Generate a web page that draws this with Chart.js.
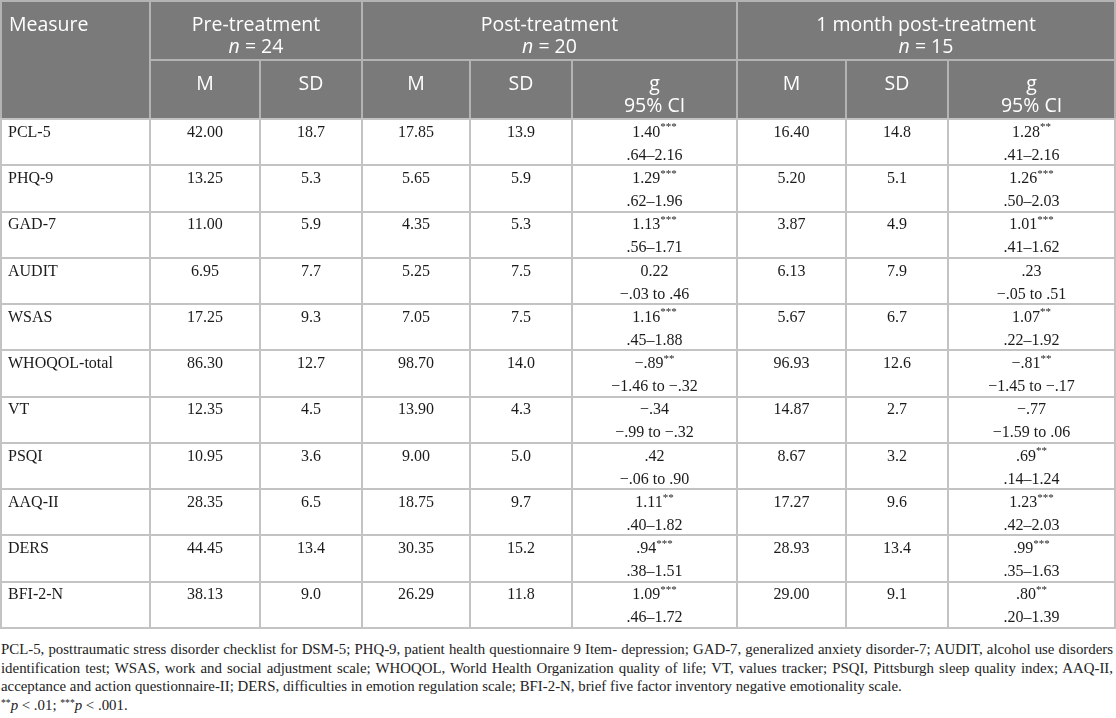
<!DOCTYPE html>
<html>
<head>
<meta charset="utf-8">
<script src="https://cdn.jsdelivr.net/npm/chart.js@4.4.0/dist/chart.umd.min.js"></script>
<style>
html,body{margin:0;padding:0;background:#fff;}
#wrap{position:absolute;left:0;top:0;width:1116px;height:632px;}
#foot{position:absolute;left:1px;top:640px;width:1112px;font-family:"Liberation Serif",serif;font-size:16px;line-height:18.5px;color:#222;}
#foot .j{text-align:justify;text-align-last:justify;white-space:nowrap;}
#foot .j{white-space:normal;}
#foot sup{font-size:0.65em;vertical-align:0.45em;line-height:0;}
</style>
</head>
<body>
<div id="wrap"><canvas id="c"></canvas></div>
<div id="foot"></div>
<script>
// ---------- DATA ----------
const measures = ['PCL-5','PHQ-9','GAD-7','AUDIT','WSAS','WHOQOL-total','VT','PSQI','AAQ-II','DERS','BFI-2-N'];
const groupLabels = ['Pre-treatment','Post-treatment','1 month post-treatment'];
const groupN = ['24','20','15'];
const subHeaders = ['M','SD','M','SD','g|95% CI','M','SD','g|95% CI'];

const preM  = [42.00,13.25,11.00,6.95,17.25,86.30,12.35,10.95,28.35,44.45,38.13];
const preSD = [18.7,5.3,5.9,7.7,9.3,12.7,4.5,3.6,6.5,13.4,9.0];

const postM  = [17.85,5.65,4.35,5.25,7.05,98.70,13.90,9.00,18.75,30.35,26.29];
const postSD = [13.9,5.9,5.3,7.5,7.5,14.0,4.3,5.0,9.7,15.2,11.8];
const postG  = ['1.40','1.29','1.13','0.22','1.16','\u2212.89','\u2212.34','.42','1.11','.94','1.09'];
const postSig= ['***','***','***','','***','**','','','**','***','***'];
const postCI = ['.64\u20132.16','.62\u20131.96','.56\u20131.71','\u2212.03 to .46','.45\u20131.88','\u22121.46 to \u2212.32','\u2212.99 to \u2212.32','\u2212.06 to .90','.40\u20131.82','.38\u20131.51','.46\u20131.72'];

const fuM  = [16.40,5.20,3.87,6.13,5.67,96.93,14.87,8.67,17.27,28.93,29.00];
const fuSD = [14.8,5.1,4.9,7.9,6.7,12.6,2.7,3.2,9.6,13.4,9.1];
const fuG  = ['1.28','1.26','1.01','.23','1.07','\u2212.81','\u2212.77','.69','1.23','.99','.80'];
const fuSig= ['**','***','***','','**','**','','**','***','***','**'];
const fuCI = ['.41\u20132.16','.50\u20132.03','.41\u20131.62','\u2212.05 to .51','.22\u20131.92','\u22121.45 to \u2212.17','\u22121.59 to .06','.14\u20131.24','.42\u20132.03','.35\u20131.63','.20\u20131.39'];

const footLines = [
  'PCL-5, posttraumatic stress disorder checklist for DSM-5; PHQ-9, patient health questionnaire 9 Item- depression; GAD-7, generalized anxiety disorder-7; AUDIT, alcohol use disorders',
  'identification test; WSAS, work and social adjustment scale; WHOQOL, World Health Organization quality of life; VT, values tracker; PSQI, Pittsburgh sleep quality index; AAQ-II,',
  'acceptance and action questionnaire-II; DERS, difficulties in emotion regulation scale; BFI-2-N, brief five factor inventory negative emotionality scale.'
];
const sigNote = '<sup>**</sup><i>p</i> &lt; .01; <sup>***</sup><i>p</i> &lt; .001.';

// ---------- LAYOUT / STYLE ----------
const TABLE_W = 1116;
const colEdges = [1,150,260,362,470,572,737,846,948,1115];
const groupSpans = [[1,3],[3,6],[6,9]];
const HEAD_ROW1 = 60, HEAD_H = 119;
const HEAD_BG = '#7a7a7a', HEAD_LINE = '#b3b3b3', GRID = '#c3c3c3';
const SANS = '"Open Sans", "Noto Sans", sans-serif';
const SERIF = '"Liberation Serif", "DejaVu Serif", serif';
const bodyFont = '16px ' + SERIF;
const supFont = '11px ' + SERIF;
const TEXT = '#1b1b1b';

// footnote (HTML text, sized so the first justified line fits)
(function(){
  const foot = document.getElementById('foot');
  const m = document.createElement('canvas').getContext('2d');
  let fs = 16;
  m.font = fs + 'px "Liberation Serif"';
  const w = m.measureText(footLines[0]).width;
  if (w > 1104) fs = fs * 1104 / w;
  foot.style.fontSize = fs.toFixed(2) + 'px';
  foot.innerHTML = footLines.map((t,i)=>'<div class="'+(i<2?'j':'')+'">'+t+'</div>').join('') + '<div>'+sigNote+'</div>';
})();

function plain(t){ return [{t:t, font:bodyFont}]; }
function starred(t,s){ return [{t:t, font:bodyFont},{t:s, font:supFont, dy:-5}]; }

const bodyCols = [
  {align:'left', cell:i=>[plain(measures[i])]},
  {cell:i=>[plain(preM[i].toFixed(2))]},
  {cell:i=>[plain(preSD[i].toFixed(1))]},
  {cell:i=>[plain(postM[i].toFixed(2))]},
  {cell:i=>[plain(postSD[i].toFixed(1))]},
  {cell:i=>[starred(postG[i],postSig[i]), plain(postCI[i])]},
  {cell:i=>[plain(fuM[i].toFixed(2))]},
  {cell:i=>[plain(fuSD[i].toFixed(1))]},
  {cell:i=>[starred(fuG[i],fuSig[i]), plain(fuCI[i])]}
];

const datasets = bodyCols.map((col,c)=>({
  label:'col'+c,
  data: measures.map(m=>({x:(colEdges[c]+colEdges[c+1])/2, y:m})),
  cells: measures.map((m,i)=>col.cell(i)),
  align: col.align||'center',
  colIndex: c,
  pointRadius:0, showLine:false
}));

function drawRich(ctx, parts, x, y, align){
  let w=0;
  parts.forEach(p=>{ctx.font=p.font; p.w=ctx.measureText(p.t).width; w+=p.w;});
  let sx = align==='left' ? x : x - w/2;
  ctx.textAlign='left';
  parts.forEach(p=>{ctx.font=p.font; ctx.fillText(p.t, sx, y+(p.dy||0)); sx+=p.w;});
}

const cellPlugin = {
  id:'cells',
  afterDatasetsDraw(chart){
    const ctx = chart.ctx, xs = chart.scales.x, ys = chart.scales.y;
    const rowH = ys.getPixelForValue(1) - ys.getPixelForValue(0);
    ctx.save();
    ctx.fillStyle = TEXT;
    ctx.textBaseline = 'middle';
    chart.data.datasets.forEach((ds,d)=>{
      const meta = chart.getDatasetMeta(d);
      meta.data.forEach((el,i)=>{
        const p = el.getProps(['x','y'], true);
        const top = p.y - rowH/2;
        const x = ds.align==='left' ? xs.getPixelForValue(colEdges[ds.colIndex]) + 7 : p.x;
        ds.cells[i].forEach((line,k)=>{
          drawRich(ctx, line.map(o=>Object.assign({},o)), x, top + 13.5 + k*23, ds.align);
        });
      });
    });
    ctx.restore();
  }
};

const headerPlugin = {
  id:'header',
  beforeDraw(chart){
    const ctx = chart.ctx, xs = chart.scales.x;
    const px = v => xs.getPixelForValue(v);
    ctx.save();
    ctx.fillStyle = HEAD_BG;
    ctx.fillRect(px(0), 0, px(TABLE_W)-px(0), HEAD_H);
    ctx.strokeStyle = HEAD_LINE;
    ctx.lineWidth = 2;
    ctx.beginPath();
    ctx.moveTo(px(colEdges[0]),1); ctx.lineTo(px(colEdges[9]),1);
    ctx.moveTo(px(colEdges[0]),0); ctx.lineTo(px(colEdges[0]),HEAD_H);
    ctx.moveTo(px(colEdges[9]),0); ctx.lineTo(px(colEdges[9]),HEAD_H);
    ctx.moveTo(px(colEdges[1]),HEAD_ROW1); ctx.lineTo(px(colEdges[9]),HEAD_ROW1);
    groupSpans.forEach(g=>{ ctx.moveTo(px(colEdges[g[0]]),0); ctx.lineTo(px(colEdges[g[0]]),HEAD_H); });
    for(let c=2;c<9;c++){ ctx.moveTo(px(colEdges[c]),HEAD_ROW1); ctx.lineTo(px(colEdges[c]),HEAD_H); }
    ctx.stroke();

    ctx.fillStyle = '#ffffff';
    ctx.textBaseline = 'middle';
    const hf = '19.5px ' + SANS, hfi = 'italic 19.5px ' + SANS;
    drawRich(ctx, [{t:'Measure', font:hf}], px(colEdges[0])+8, 25, 'left');
    groupSpans.forEach((g,k)=>{
      const cx = (px(colEdges[g[0]])+px(colEdges[g[1]]))/2;
      drawRich(ctx, [{t:groupLabels[k], font:hf}], cx, 25, 'center');
      drawRich(ctx, [{t:'n', font:hfi},{t:' = '+groupN[k], font:hf}], cx, 47, 'center');
    });
    subHeaders.forEach((s,k)=>{
      const c = k+1;
      const cx = (px(colEdges[c])+px(colEdges[c+1]))/2;
      s.split('|').forEach((line,j)=>{
        drawRich(ctx, [{t:line, font:hf}], cx, 84 + j*22, 'center');
      });
    });
    ctx.restore();
  }
};

new Chart(document.getElementById('c'), {
  type:'scatter',
  data:{ labels: measures, datasets: datasets },
  options:{
    responsive:true, maintainAspectRatio:false, animation:false,
    layout:{ padding:{ top:HEAD_H, bottom:4, left:0, right:0 } },
    plugins:{ legend:{display:false}, tooltip:{enabled:false} },
    events:[],
    scales:{
      x:{
        type:'linear', min:0, max:TABLE_W,
        afterBuildTicks(scale){ scale.ticks = colEdges.map(v=>({value:v})); },
        afterFit(scale){ scale.height = 0; },
        ticks:{display:false},
        grid:{color:GRID, lineWidth:2, drawTicks:false},
        border:{display:false}
      },
      y:{
        type:'category', labels: measures, offset:true,
        afterFit(scale){ scale.width = 0; },
        ticks:{display:false},
        grid:{color:GRID, lineWidth:2, drawTicks:false, offset:true},
        border:{display:false}
      }
    }
  },
  plugins:[headerPlugin, cellPlugin]
});
</script>
</body>
</html>
